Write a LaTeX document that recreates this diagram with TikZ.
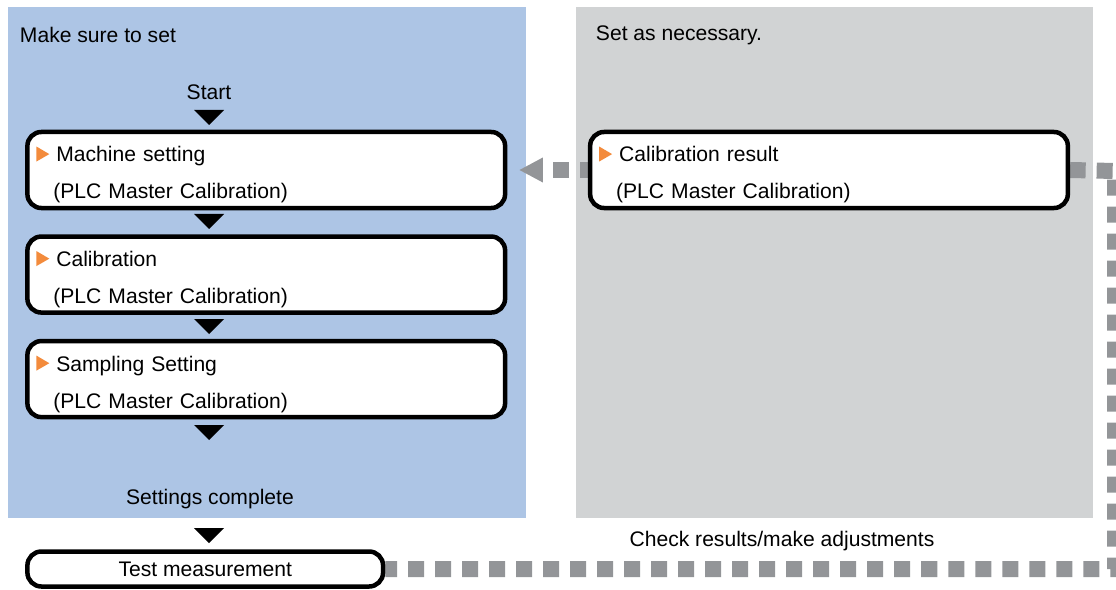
\documentclass[tikz,border=0pt]{standalone}
\usepackage{fontspec}
\setmainfont{Liberation Sans}
\usetikzlibrary{arrows.meta,positioning,backgrounds}
\definecolor{panelblue}{RGB}{173,197,229}
\definecolor{panelgray}{RGB}{209,211,212}
\definecolor{dashgray}{RGB}{147,149,152}
\definecolor{triorange}{RGB}{243,139,60}
\newcommand\otri{\rule{0pt}{18pt}\tikz[baseline=0pt,sharp corners,line width=0.4pt]
  \path[fill=triorange,draw=none] (0pt,0.3pt) -- (0pt,11pt) -- (9.2pt,5.6pt) -- cycle;\hspace{5pt}}

\begin{document}
\begin{tikzpicture}[x=0.025cm,y=-0.025cm,font=\fontsize{15pt}{26.3pt}\selectfont,
   node distance=0.6cm,
   stepbox/.style={draw,line width=3.2pt,rounded corners=0.35cm,fill=white,
                   minimum width=11.94cm,minimum height=1.9cm,text width=11.49cm,
                   inner xsep=0.225cm,align=left},
   testbox/.style={draw,line width=3.2pt,rounded corners=0.35cm,fill=white,
                   minimum width=8.89cm,minimum height=0.875cm},
   dashline/.style={draw=dashgray,line width=0.4cm,dash pattern=on 0.4cm off 0.275cm},
   downtri/.pic={\fill (-15,0) -- (15,0) -- (0,15) -- cycle;}]
  \useasboundingbox (0,0) rectangle (1116,590);
  % panel titles
  \node[anchor=west] (mustlbl) at (15,35) {Make sure to set};
  \node[anchor=west] (optlbl) at (591,35) {Set as necessary.};
  % required steps
  \node (start) at (209,92) {Start};
  \node[stepbox] (mach) at (266.25,170) {\otri Machine setting\\\hspace*{0.425cm}(PLC Master Calibration)};
  \node[stepbox,below=of mach] (calibr) {\otri Calibration\\\hspace*{0.425cm}(PLC Master Calibration)};
  \node[stepbox,below=of calibr] (sampl) {\otri Sampling Setting\\\hspace*{0.425cm}(PLC Master Calibration)};
  \node (done) at (210,499) {Settings complete};
  \node[testbox] (test) at (205.25,569) {Test measurement};
  \pic at (209,110) {downtri};
  \pic at (209,214) {downtri};
  \pic at (209,319) {downtri};
  \pic at (209,425) {downtri};
  \pic at (209,528) {downtri};
  % optional step
  \node[stepbox] (result) at (829,170) {\otri Calibration result\\\hspace*{0.425cm}(PLC Master Calibration)};
  \node (checklbl) at (782,541) {Check results/make adjustments};
  \coordinate (turn) at (1115,171);
  \begin{scope}[on background layer]
    \fill[panelblue] (8,7) rectangle (526,518);
    \fill[panelgray] (576,7) rectangle (1093,518);
    \draw[dashline,dash phase=0.106cm] (test.east) -| (turn) -- (result.east);
    \draw[dashline,dash phase=0.206cm,-{Triangle[length=0.6cm,width=0.58cm]},shorten >=0.29cm]
      (result.west) -- (mach.east);
  \end{scope}
\end{tikzpicture}
\end{document}
